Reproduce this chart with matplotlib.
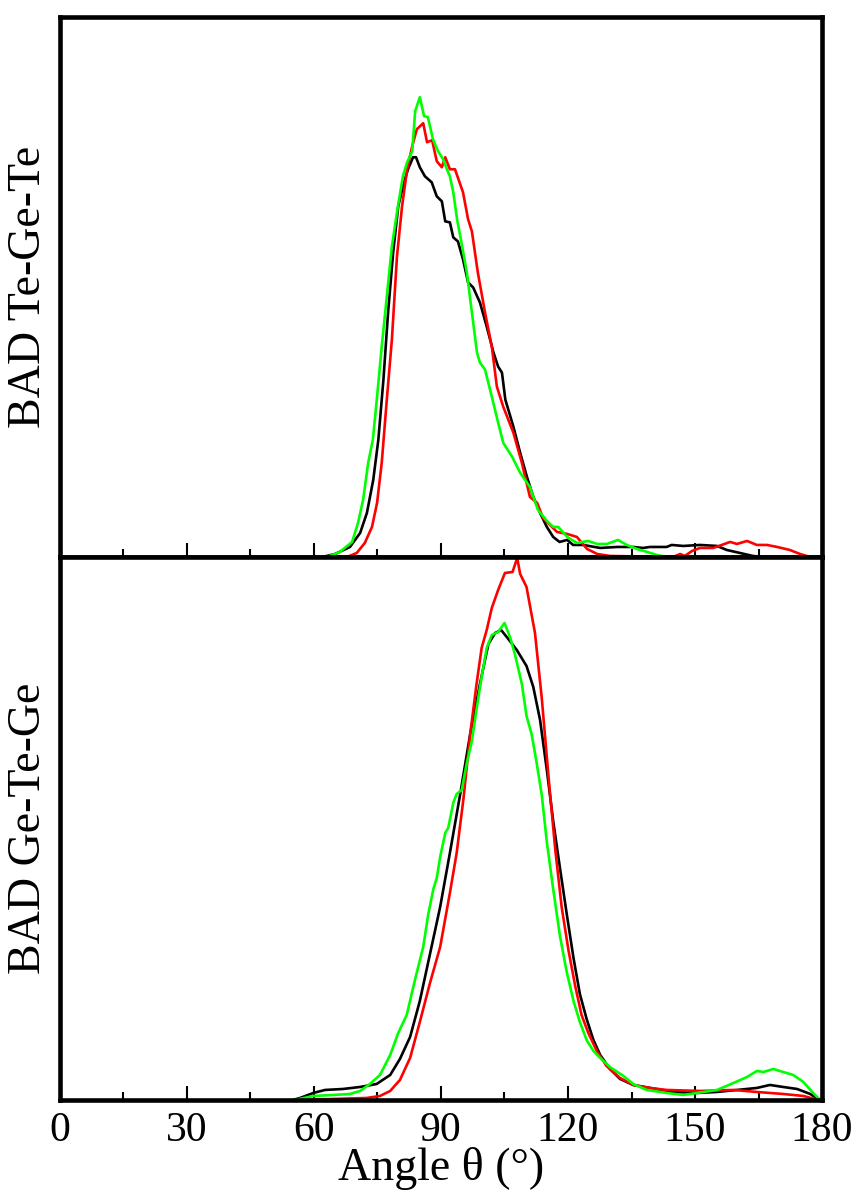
import matplotlib
matplotlib.use("Agg")
import matplotlib.pyplot as plt
from matplotlib.ticker import MultipleLocator

plt.rcParams['font.family'] = ['Liberation Serif', 'DejaVu Serif']

# ---- Te-Ge-Te bond-angle distribution (upper panel) ----
tgt_black_x = [62, 65, 68.5, 70.9, 72.5, 74, 75.2, 76.4, 77.5, 78.7, 79.9, 81, 82.2, 83.4, 84.1,
               85, 86.2, 87.8, 89, 90.2, 91, 92.1, 92.9, 94, 95.2, 96.4, 97.6, 99.2, 100.8, 102.4,
               103.5, 104.4, 105.2, 107.1, 108.7, 110.3, 111.8, 113.4, 115, 116.5, 118, 119.8,
               121.2, 123.6, 127.6, 131.6, 135.4, 137.7, 139.4, 143.3, 144.5, 147.2, 151.2,
               155.2, 157.5, 160.6, 163.7, 166, 180]
tgt_black_y = [0, 3, 10, 24, 44, 77, 117, 177, 244, 304, 350, 370, 387, 399, 399,
               389, 380, 374, 360, 355, 335, 334, 319, 315, 297, 274, 269, 254, 230, 204,
               190, 184, 157, 130, 104, 80, 60, 44, 30, 20, 15, 17,
               12, 12, 9, 10, 10, 9, 10, 10, 12, 11, 12,
               11, 7, 4, 1, 0, 0]

tgt_red_x = [67.8, 70.1, 72, 73.7, 74.9, 76, 77.2, 78.4, 79.6, 80.8, 82, 83.2, 84.3, 85.8,
             86.7, 87.9, 89, 90.2, 91, 92.1, 93.3, 95.2, 96.4, 97.3, 98.7, 100.4, 102, 103.2,
             104.7, 107.1, 109.1, 111, 112.7, 114.1, 117.4, 119.8, 122.1, 124.5, 126.9, 129.9,
             144.8, 146.5, 147.6, 149.3, 151.2, 154.3, 158.3, 159.9, 162.3, 164.6, 167, 169.4,
             172.4, 174.8, 177.2, 180]
tgt_red_y = [0, 4, 14, 30, 54, 94, 157, 217, 300, 350, 387, 410, 427, 433,
             414, 416, 395, 389, 399, 387, 387, 364, 337, 325, 284, 244, 210, 170,
             150, 124, 94, 60, 54, 39, 25, 23, 20, 8, 3, 1,
             0, 3, 1, 6, 9, 9, 15, 13, 16, 12, 12, 10,
             7, 3, 0, 0]

tgt_green_x = [63.1, 66.1, 69, 70.4, 71.6, 72.8, 73.9, 74.9, 76, 77.2, 78.4, 79.6, 81, 82,
               83.2, 83.9, 85, 86, 86.9, 88.1, 89.3, 90.5, 91.4, 92.1, 92.9, 93.8, 95, 96.1,
               97.3, 98.5, 99.2, 100.4, 102, 103.5, 104.7, 106.8, 108.7, 111, 112.9, 115,
               116.5, 117.7, 119.8, 122.1, 124.7, 126.9, 129.2, 131.8, 133.9, 136.3, 138.7,
               141, 143.4, 180]
tgt_green_y = [0, 5, 15, 34, 57, 94, 117, 160, 210, 260, 310, 344, 380, 394,
               405, 445, 459, 440, 439, 417, 405, 397, 387, 380, 364, 337, 310, 284,
               244, 204, 194, 187, 160, 134, 114, 100, 84, 70, 47, 36,
               30, 30, 20, 14, 16, 13, 13, 17, 12, 8, 5,
               2, 0, 0]

# ---- Ge-Te-Ge bond-angle distribution (lower panel) ----
gtg_black_x = [55, 56.7, 59.85, 62.6, 66.9, 70.9, 74.8, 78, 80.3, 82.7, 85, 87.4, 89.8, 92.1,
               94.5, 96.9, 99.2, 101.2, 102.8, 104.2, 105.9, 107.9, 110.2, 111.8, 113.4, 115,
               116.5, 118.1, 119.7, 121.3, 122.8, 124.4, 126, 127.6, 129.9, 132.3, 135.4,
               139.4, 144.8, 150.5, 155.2, 159.9, 164.6, 167.7, 170.8, 174.1, 177.2, 179.1, 180]
gtg_black_y = [0, 2, 7, 10, 11, 13, 16, 25, 41, 63, 99, 146, 193, 247,
               305, 366, 416, 456, 467, 470, 461, 450, 434, 413, 380, 330,
               279, 232, 186, 142, 106, 81, 60, 45, 31, 21, 15,
               12, 8, 7, 8, 10, 12, 15, 13, 11, 6, 1, 0]

gtg_red_x = [56.7, 64.6, 72.4, 75.6, 78, 80.3, 82.7, 85, 87.4, 89.8, 92.1, 93.7, 95.3, 96.9,
             98.4, 99.6, 100.8, 102, 103.5, 105.1, 106.9, 108, 108.7, 110.2, 112.2, 113.8,
             115.4, 117, 118.5, 120.1, 121.7, 123.2, 124.8, 126.8, 129.1, 132.3, 135.4,
             139.4, 143.3, 151.2, 159.1, 164.6, 170.8, 175.6, 179.1, 180]
gtg_red_y = [0, 1, 2, 4, 9, 20, 42, 78, 117, 153, 207, 247, 301, 366,
             416, 452, 470, 492, 510, 527, 528, 542, 526, 513, 467, 402,
             323, 250, 193, 150, 114, 85, 67, 49, 34, 22, 15,
             12, 10, 9, 10, 8, 6, 4, 0, 0]

gtg_green_x = [55.5, 59.85, 64.6, 68.5, 70.9, 73.2, 75.6, 78, 79.9, 81.9, 83.9, 85.8, 87, 88.2,
               89, 89.8, 91, 91.7, 92.9, 93.7, 94.9, 96.1, 97.3, 98.4, 99.6, 100.8, 102,
               103.5, 105, 106.3, 107.5, 109.1, 110.2, 111.4, 112.6, 113.8, 115, 116.5,
               118.1, 119.7, 121.3, 122.8, 124.4, 126, 127.6, 129.9, 133.1, 135.4, 138.6,
               143.3, 147.2, 150.5, 155.2, 159.1, 162.3, 164.6, 166.2, 168.5, 170.8, 173.2,
               175.6, 177.9, 179.3, 180]
gtg_green_y = [0, 4, 5, 6, 9, 16, 25, 45, 67, 85, 121, 153, 186, 211,
               222, 243, 267, 272, 297, 306, 310, 337, 359, 391, 423, 452, 465,
               468, 477, 463, 445, 416, 384, 366, 337, 305, 258, 211,
               164, 128, 99, 78, 60, 49, 42, 33, 24, 16, 10,
               7, 5, 7, 10, 17, 23, 29, 28, 31, 28, 25,
               18, 7, 1, 0]

x_ticks = [0, 30, 60, 90, 120, 150, 180]
panel_labels = ['BAD Te-Ge-Te', 'BAD Ge-Te-Ge']
x_label = 'Angle θ (°)'

colors = {'black': '#000000', 'red': '#ff0000', 'green': '#00ff00'}
lw = 1.9
fs_ticks = 30
fs_label = 33

fig = plt.figure(figsize=(8.62, 11.96), dpi=100)
left, right = 0.0696, 0.9536
ax_top = fig.add_axes([left, 0.5343, right - left, 0.9858 - 0.5343])
ax_bot = fig.add_axes([left, 0.0803, right - left, 0.5343 - 0.0803])

ax_top.plot(tgt_black_x, tgt_black_y, color=colors['black'], lw=lw)
ax_top.plot(tgt_red_x, tgt_red_y, color=colors['red'], lw=lw)
ax_top.plot(tgt_green_x, tgt_green_y, color=colors['green'], lw=lw)

ax_bot.plot(gtg_black_x, gtg_black_y, color=colors['black'], lw=lw)
ax_bot.plot(gtg_red_x, gtg_red_y, color=colors['red'], lw=lw)
ax_bot.plot(gtg_green_x, gtg_green_y, color=colors['green'], lw=lw)

ax_top.set_ylim(0, 539)
ax_bot.set_ylim(0, 543)

for ax, lab in zip((ax_top, ax_bot), panel_labels):
    ax.set_xlim(0, 180)
    ax.set_xticks(x_ticks)
    ax.xaxis.set_minor_locator(MultipleLocator(15))
    ax.set_yticks([])
    for s in ax.spines.values():
        s.set_linewidth(3.3)
    ax.tick_params(axis='x', which='major', direction='in', length=10, width=1.5,
                   top=False, labelsize=fs_ticks, pad=8)
    ax.tick_params(axis='x', which='minor', direction='in', length=6, width=1.5, top=False)
    ax.set_ylabel(lab, fontsize=fs_label, labelpad=7)

ax_top.tick_params(axis='x', which='both', labelbottom=False)
ax_bot.set_xlabel(x_label, fontsize=fs_label, labelpad=-2)

fig.savefig('out.png', dpi=100)
